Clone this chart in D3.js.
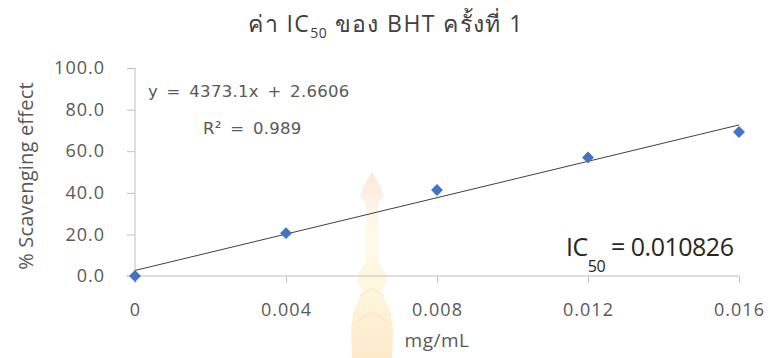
<!DOCTYPE html>
<html>
<head>
<meta charset="utf-8">
<script src="https://cdn.jsdelivr.net/npm/d3@7"></script>
<style>
  html, body { margin: 0; padding: 0; background: #fff; }
  svg { display: block; font-family: "Open Sans", "Noto Sans", sans-serif; }
</style>
</head>
<body>
<svg id="chart" width="770" height="358"></svg>
<script>
// Concentration (mg/mL) and % scavenging effect of BHT, run 1
const concentrations = [0, 0.004, 0.008, 0.012, 0.016];
const scavenging = [0, 20.6, 41.37, 57.0, 69.26];

// Linear trendline coefficients and fit statistics
const slope = 4373.1;
const intercept = 2.6606;
const rSquared = 0.989;
const ic50Label = "0.010826";

const xTicks = [0, 0.004, 0.008, 0.012, 0.016];
const xTickLabels = ["0", "0.004", "0.008", "0.012", "0.016"];
const yTicks = [0, 20, 40, 60, 80, 100];

const svg = d3.select("#chart");
const plotLeft = 135, plotRight = 739, plotTop = 68, plotBottom = 276;

const x = d3.scaleLinear().domain([0, 0.016]).range([plotLeft, plotRight]);
const y = d3.scaleLinear().domain([0, 100]).range([plotBottom, plotTop]);

const axisColor = "#bfbfbf";
const labelColor = "#595959";
const sansFont = "'Open Sans', 'Noto Sans', sans-serif";
const eqFont = "'DejaVu Sans', Verdana, sans-serif";

// Pale emblem watermark behind the plot
const defs = svg.append("defs");
const grad = defs.append("linearGradient").attr("id", "wmGrad")
  .attr("x1", 0).attr("y1", 0).attr("x2", 0).attr("y2", 1);
grad.append("stop").attr("offset", "0%").attr("stop-color", "#fbd9c4");
grad.append("stop").attr("offset", "18%").attr("stop-color", "#fde9d6");
grad.append("stop").attr("offset", "35%").attr("stop-color", "#fff6dc");
grad.append("stop").attr("offset", "62%").attr("stop-color", "#fff1c9");
grad.append("stop").attr("offset", "100%").attr("stop-color", "#fcdca8");
const cx = 372;
const half = [
  [0, 172], [8, 186], [12, 196], [7, 202], [6, 206], [6, 262],
  [13, 272], [15, 282], [9, 290], [13, 300], [19, 312], [21, 330], [20, 358]
];
const outline = half.map(([dx, yy]) => [cx + dx, yy])
  .concat(half.slice().reverse().map(([dx, yy]) => [cx - dx, yy]));
const wm = svg.append("g").attr("opacity", 0.6);
wm.append("path")
  .attr("d", d3.line().curve(d3.curveLinearClosed)(outline))
  .attr("fill", "url(#wmGrad)");
wm.append("g").attr("fill", "none").attr("stroke", "#f9d9a8").attr("stroke-width", 1.2)
  .selectAll("path")
  .data([[[cx - 12, 296], [cx, 288], [cx + 12, 296]], [[cx - 16, 322], [cx, 312], [cx + 16, 322]], [[cx - 18, 340], [cx + 18, 340]]])
  .join("path")
  .attr("d", d => d3.line()(d));

// Y axis
const yAxis = d3.axisLeft(y).tickValues(yTicks).tickSize(8).tickPadding(22)
  .tickFormat(d3.format(".1f"));
const gy = svg.append("g").attr("transform", `translate(${plotLeft},0)`).call(yAxis);
gy.select(".domain").attr("stroke", axisColor).attr("d", `M0,${plotTop}V${plotBottom}`);
gy.selectAll(".tick line").attr("stroke", axisColor);
gy.selectAll(".tick text").attr("fill", labelColor).attr("font-size", 18)
  .attr("letter-spacing", 1).attr("font-family", sansFont);

// X axis
const xAxis = d3.axisBottom(x).tickValues(xTicks).tickSize(7).tickPadding(20)
  .tickFormat((d, i) => xTickLabels[i]);
const gx = svg.append("g").attr("transform", `translate(0,${plotBottom})`).call(xAxis);
gx.select(".domain").attr("stroke", axisColor).attr("d", `M${plotLeft - 8},0H${plotRight}`);
gx.selectAll(".tick line").attr("stroke", axisColor);
gx.selectAll(".tick text").attr("fill", labelColor).attr("font-size", 18)
  .attr("letter-spacing", 1).attr("font-family", sansFont);

// Linear trendline
svg.append("line")
  .attr("x1", x(0)).attr("y1", y(intercept))
  .attr("x2", x(0.016)).attr("y2", y(slope * 0.016 + intercept))
  .attr("stroke", "#404040").attr("stroke-width", 1);

// Data markers (diamonds)
const diamond = d3.symbol().type(d3.symbolDiamond2).size(90);
svg.append("g").selectAll("path")
  .data(concentrations.map((c, i) => [c, scavenging[i]]))
  .join("path")
  .attr("d", diamond)
  .attr("transform", d => `translate(${x(d[0])},${y(d[1])})`)
  .attr("fill", "#4472c4");

// Title
const title = svg.append("text").attr("x", 386).attr("y", 32)
  .attr("text-anchor", "middle").attr("fill", "#404040").attr("font-size", 23)
  .attr("letter-spacing", 1.4);
title.append("tspan").text("ค่า IC");
title.append("tspan").attr("font-size", 14).attr("dy", 6).attr("letter-spacing", 0.5).text("50");
title.append("tspan").attr("dy", -6).text(" ของ BHT ครั้งที่ 1");

// Axis titles
svg.append("text").attr("transform", `translate(33,${(plotTop + plotBottom) / 2 + 4}) rotate(-90)`)
  .attr("text-anchor", "middle").attr("fill", labelColor).attr("font-size", 20)
  .attr("letter-spacing", 0.2).text("% Scavenging effect");
svg.append("text").attr("x", x(0.008)).attr("y", 347)
  .attr("text-anchor", "middle").attr("fill", labelColor).attr("font-size", 19)
  .attr("letter-spacing", 0.5).text("mg/mL");

// Trendline equation and R²
svg.append("text").attr("x", 148).attr("y", 97).attr("fill", labelColor)
  .attr("font-size", 16.5).attr("font-family", eqFont)
  .attr("letter-spacing", 0.3).attr("word-spacing", 3)
  .text(`y = ${slope}x + ${intercept}`);
svg.append("text").attr("x", 203).attr("y", 134).attr("fill", labelColor)
  .attr("font-size", 16.5).attr("font-family", eqFont)
  .attr("letter-spacing", 0.3).attr("word-spacing", 3)
  .text(`R² = ${rSquared}`);

// IC50 annotation
const ic = svg.append("text").attr("x", 566).attr("y", 256).attr("fill", "#262626")
  .attr("font-size", 25).attr("letter-spacing", -0.5);
ic.append("tspan").text("IC");
ic.append("tspan").attr("font-size", 16).attr("dy", 16).text("50");
ic.append("tspan").attr("dy", -16).attr("dx", 6).text(`= ${ic50Label}`);
</script>
</body>
</html>
